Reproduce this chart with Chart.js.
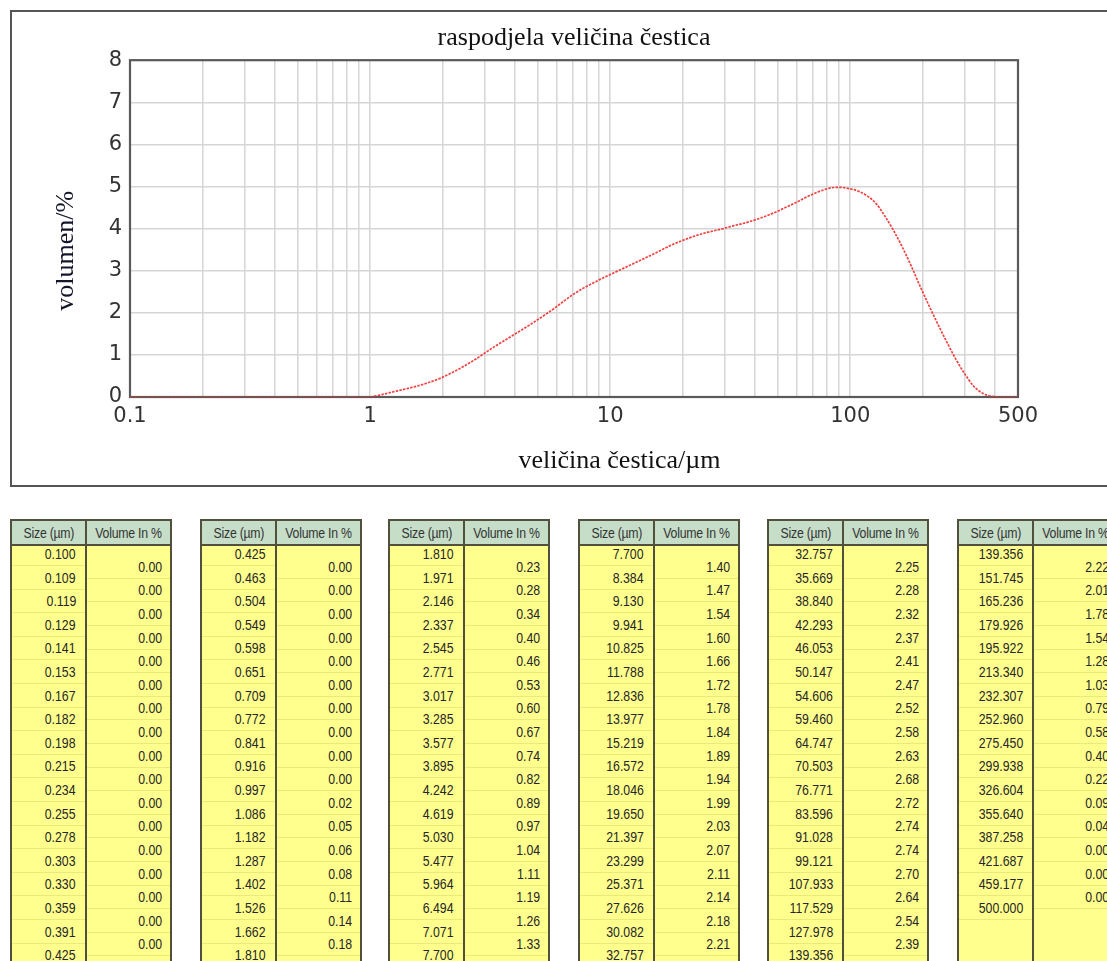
<!DOCTYPE html>
<html>
<head>
<meta charset="utf-8">
<script src="https://cdn.jsdelivr.net/npm/chart.js@4.4.1/dist/chart.umd.min.js"></script>
<style>
  html, body { margin:0; padding:0; background:#fff; width:1107px; height:961px; overflow:hidden; position:relative; }
  #frame { position:absolute; left:10px; top:10px; width:1200px; height:473px; border:2px solid #555; border-right:none; box-sizing:content-box; }
  #chartWrap { position:absolute; left:0; top:0; width:1107px; height:490px; }
  .tbl { position:absolute; top:519px; width:162px; height:470px; box-sizing:border-box; border:2px solid #50503c; background:#ffff8e; overflow:hidden; }
  .hdr { position:absolute; left:0; top:0; right:0; height:23px; background:#c6ddc8; border-bottom:2px solid #50503c; }
  .div { position:absolute; top:0; bottom:0; width:2px; background:#50503c; }
  .cell { position:absolute; height:16px; line-height:16px; text-align:right; font-family:"Liberation Sans", Arial, sans-serif; font-size:15px; color:#262626; white-space:nowrap; }
  .cell span, .hcell span { display:inline-block; transform:scaleX(0.82); }
  .cell span { transform-origin:right center; }
  .hcell { position:absolute; top:0; height:23px; line-height:23px; text-align:center; font-family:"Liberation Sans", Arial, sans-serif; font-size:15px; color:#333; white-space:nowrap; letter-spacing:-0.3px; }
  .rl { position:absolute; height:1px; background:rgba(215,215,110,0.55); }
</style>
</head>
<body>
<div id="frame"></div>
<div id="chartWrap"><canvas id="c" width="1107" height="490"></canvas></div>
<div id="tables"></div>
<script>
// ---- data ----
const sizeUm = [0.100,0.109,0.119,0.129,0.141,0.153,0.167,0.182,0.198,0.215,0.234,0.255,0.278,0.303,0.330,0.359,0.391,
  0.425,0.463,0.504,0.549,0.598,0.651,0.709,0.772,0.841,0.916,0.997,1.086,1.182,1.287,1.402,1.526,1.662,
  1.810,1.971,2.146,2.337,2.545,2.771,3.017,3.285,3.577,3.895,4.242,4.619,5.030,5.477,5.964,6.494,7.071,
  7.700,8.384,9.130,9.941,10.825,11.788,12.836,13.977,15.219,16.572,18.046,19.650,21.397,23.299,25.371,27.626,30.082,
  32.757,35.669,38.840,42.293,46.053,50.147,54.606,59.460,64.747,70.503,76.771,83.596,91.028,99.121,107.933,117.529,127.978,
  139.356,151.745,165.236,179.926,195.922,213.340,232.307,252.960,275.450,299.938,326.604,355.640,387.258,421.687,459.177,500.000];

// curve (volumen/%) at each size
const curveVolume = [0,0,0,0,0,0,0,0,0,0,0,0,0,0,0,0,0,
  0,0,0,0,0,0,0,0,0,0,0,0.04,0.09,0.14,0.19,0.24,0.30,
  0.37,0.45,0.55,0.66,0.78,0.91,1.05,1.19,1.32,1.45,1.58,1.71,1.85,1.99,2.14,2.30,2.45,
  2.58,2.69,2.80,2.90,3.00,3.10,3.20,3.30,3.40,3.51,3.61,3.70,3.78,3.85,3.91,3.96,4.01,
  4.07,4.12,4.18,4.25,4.33,4.42,4.52,4.62,4.73,4.83,4.91,4.97,4.98,4.95,4.89,4.78,4.60,
  4.30,3.95,3.55,3.10,2.62,2.16,1.72,1.30,0.90,0.55,0.26,0.09,0.02,0,0,0];

// table: volume in % per size bin
const binVolume = [0.00,0.00,0.00,0.00,0.00,0.00,0.00,0.00,0.00,0.00,0.00,0.00,0.00,0.00,0.00,0.00,0.00,
  0.00,0.00,0.00,0.00,0.00,0.00,0.00,0.00,0.00,0.00,0.02,0.05,0.06,0.08,0.11,0.14,0.18,
  0.23,0.28,0.34,0.40,0.46,0.53,0.60,0.67,0.74,0.82,0.89,0.97,1.04,1.11,1.19,1.26,1.33,
  1.40,1.47,1.54,1.60,1.66,1.72,1.78,1.84,1.89,1.94,1.99,2.03,2.07,2.11,2.14,2.18,2.21,
  2.25,2.28,2.32,2.37,2.41,2.47,2.52,2.58,2.63,2.68,2.72,2.74,2.74,2.70,2.64,2.54,2.39,
  2.22,2.01,1.78,1.54,1.28,1.03,0.79,0.58,0.40,0.22,0.09,0.04,0.00,0.00,0.00];

const xTickLabels = ['0.1','1','10','100','500'];
const xGridValues = [0.1,0.2,0.3,0.4,0.5,0.6,0.7,0.8,0.9,1,2,3,4,5,6,7,8,9,10,20,30,40,50,60,70,80,90,100,200,300,400,500];
const yTickValues = [0,1,2,3,4,5,6,7,8];
const tableHeaders = ['Size (µm)', 'Volume In %'];

// ---- chart ----
const plotBorder = {
  id:'plotBorder',
  beforeDatasetsDraw(chart){
    const {ctx, chartArea:a} = chart;
    ctx.save();
    ctx.strokeStyle = '#5a5a5a';
    ctx.lineWidth = 2.2;
    ctx.strokeRect(a.left, a.top, a.right - a.left, a.bottom - a.top);
    ctx.restore();
  }
};

const serif = 'Liberation Serif, "Times New Roman", serif';
const sans = 'DejaVu Sans, Verdana, sans-serif';

new Chart(document.getElementById('c'), {
  type:'line',
  data:{
    datasets:[{
      data: sizeUm.map((x,i)=>({x:x, y:curveVolume[i]})),
      borderColor:'rgba(238,45,45,0.9)',
      borderWidth:1.7,
      borderDash:[2.5,1.2],
      pointRadius:0,
      cubicInterpolationMode:'monotone',
      fill:false
    }]
  },
  options:{
    responsive:false,
    animation:false,
    events:[],
    layout:{padding:{left:20, right:89, top:0, bottom:0}},
    plugins:{
      legend:{display:false},
      tooltip:{enabled:false},
      title:{
        display:true,
        text:'raspodjela veličina čestica',
        fullSize:false,
        color:'#111',
        font:{family:serif, size:26, weight:'normal', lineHeight:1.2},
        padding:{top:23, bottom:6}
      }
    },
    scales:{
      x:{
        type:'logarithmic',
        min:0.1, max:500,
        afterBuildTicks:(s)=>{ s.ticks = xGridValues.map(v=>({value:v})); },
        afterFit:(s)=>{ s.height = 93; },
        ticks:{
          autoSkip:false, maxRotation:0, minRotation:0, padding:7,
          color:'#333', font:{family:sans, size:21},
          callback:(v)=>{ const t = xTickLabels.find(l=>Math.abs(parseFloat(l)-v)<1e-9); return t===undefined ? '' : t; }
        },
        grid:{color:'#d6d6d6', lineWidth:1.5, drawTicks:false},
        border:{display:false},
        title:{
          display:true,
          text:'\u2003\u2003\u2003\u2002veličina čestica/µm',
          color:'#111',
          font:{family:serif, size:26, lineHeight:1.2},
          padding:{top:0, bottom:13}
        }
      },
      y:{
        min:0, max:8,
        afterBuildTicks:(s)=>{ s.ticks = yTickValues.map(v=>({value:v})); },
        afterFit:(s)=>{ s.width = 110; },
        ticks:{padding:8, color:'#333', font:{family:sans, size:21}},
        grid:{color:'#d6d6d6', lineWidth:1.5, drawTicks:false},
        border:{display:false},
        title:{
          display:true,
          text:'volumen/%\u2003\u2002\u2009',
          color:'#14142a',
          font:{family:serif, size:26, lineHeight:1.2},
          padding:{top:31, bottom:0}
        }
      }
    }
  },
  plugins:[plotBorder]
});

// ---- tables ----
const tableLefts = [10, 200, 388, 578, 767, 957];
const per = 17, rowH = 23.6, divX = 73;
const host = document.getElementById('tables');
tableLefts.forEach((left, k)=>{
  const t = document.createElement('div');
  t.className = 'tbl';
  t.style.left = left + 'px';
  let html = '<div class="hdr"></div>';
  html += '<div class="hcell" style="left:0;width:'+divX+'px"><span>'+tableHeaders[0]+'</span></div>';
  html += '<div class="hcell" style="left:'+(divX+2)+'px;width:'+(158-divX-2)+'px"><span>'+tableHeaders[1]+'</span></div>';
  html += '<div class="div" style="left:'+divX+'px"></div>';
  const s0 = k*per;
  for (let i=0; i<=per; i++){
    const idx = s0 + i;
    if (idx >= sizeUm.length) break;
    const yc = 33 + i*rowH;
    html += '<div class="rl" style="left:0;width:'+divX+'px;top:'+(yc+11).toFixed(1)+'px"></div>';
    html += '<div class="cell" style="left:0;width:'+(divX-9)+'px;top:'+(yc-8).toFixed(1)+'px"><span>'+sizeUm[idx].toFixed(3)+'</span></div>';
  }
  for (let i=0; i<per; i++){
    const idx = s0 + i;
    if (idx >= binVolume.length) break;
    const yc = 45.7 + i*rowH;
    html += '<div class="rl" style="left:'+(divX+2)+'px;width:90px;top:'+(yc+11).toFixed(1)+'px"></div>';
    html += '<div class="cell" style="left:'+(divX+2)+'px;width:'+(158-divX-2-8)+'px;top:'+(yc-8).toFixed(1)+'px"><span>'+binVolume[idx].toFixed(2)+'</span></div>';
  }
  t.innerHTML = html;
  host.appendChild(t);
});
</script>
</body>
</html>
